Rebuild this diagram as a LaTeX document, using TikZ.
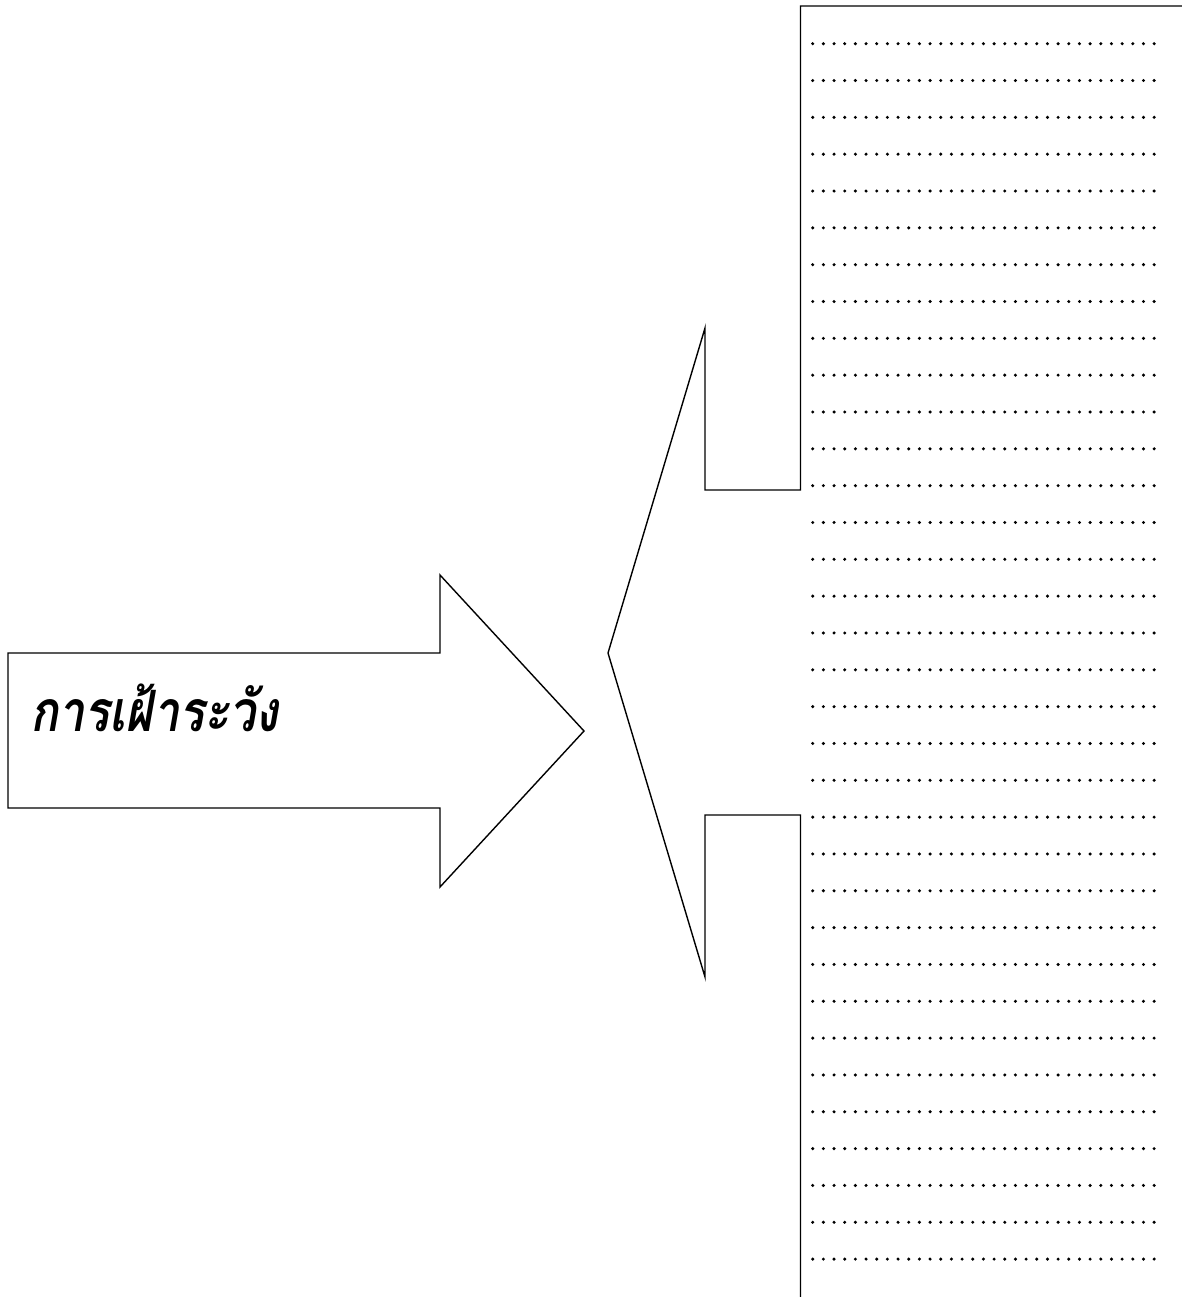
\documentclass[tikz,border=0pt]{standalone}
\usepackage{fontspec}
\newfontfamily\thaifont[Script=Thai,FakeStretch=0.82]{Loma}
\tikzset{
  outline/.style={draw=black, line width=1.4pt, line join=miter},
  dotmark/.style={fill=black},
}
\begin{document}
\begin{tikzpicture}[x=1pt,y=-1pt]
\useasboundingbox (0,0) rectangle (1182,1297);
% right box (open on the right and bottom), merged with left-pointing arrow
\draw[outline] (1182,6) -- (800.5,6) -- (800.5,490) -- (705,490) -- (705,328)
  -- (608,653) -- (705,977) -- (705,815) -- (800.5,815) -- (800.5,1297);
% dotted writing lines
\foreach \r in {0,...,33}{
  \foreach \c in {0,...,32}{
    \fill[dotmark] ({812.7+\c*10.67},{43.7+\r*36.83}) circle (1.7pt);
  }
}
% right-pointing arrow
\draw[outline] (8,653) -- (440,653) -- (440,575) -- (584,731) -- (440,887)
  -- (440,808) -- (8,808) -- cycle;
\node[anchor=base west, inner sep=0pt] (label) at (30,731)
  {\thaifont\bfseries\itshape\fontsize{57}{64}\selectfont การเฝ้าระวัง};
\end{tikzpicture}
\end{document}
